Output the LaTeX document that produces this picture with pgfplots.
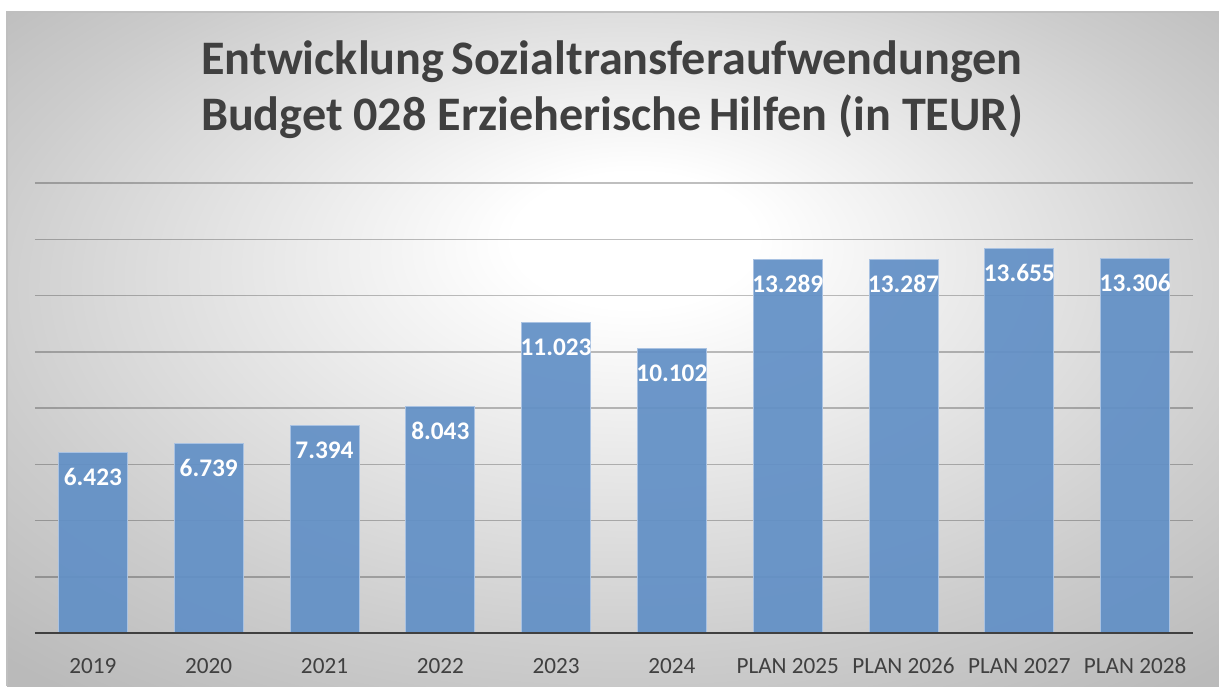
\documentclass[border=0pt]{standalone}
\usepackage{fontspec}
\setmainfont{Carlito}
\usepackage{pgfplots}
\pgfplotsset{compat=1.18}
\definecolor{txt}{HTML}{404040}
\definecolor{barblue}{HTML}{6290C6}
\definecolor{baredge}{HTML}{A9C2E2}
% background: light centre, grey edges
\pgfdeclareradialshading{chartbg}{\pgfpoint{1bp}{9bp}}{color(0bp)=(white); color(5bp)=(white); color(27bp)=(black!20); color(36bp)=(black!27); color(50bp)=(black!27)}

\begin{document}
\begin{tikzpicture}
\useasboundingbox (0,0) rectangle (121.9mm,68.6mm);
\shade[shading=chartbg] (0.7mm,0) rectangle (121.9mm,67.4mm);
\draw[black!25, line width=0.2mm] (0.7mm,0) -- (0.7mm,67.4mm) -- (121.9mm,67.4mm);

\node[anchor=base, font=\fontsize{13.7}{15}\selectfont\bfseries, text=txt] at (61.2mm,61.2mm) {Entwicklung\hspace{0.15em}Sozialtransferaufwendungen};
\node[anchor=base, font=\fontsize{13.7}{15}\selectfont\bfseries, text=txt] at (61.2mm,55.6mm) {Budget 028 Erzieherische\hspace{0.15em}Hilfen (in TEUR)};

\begin{axis}[
    at={(3.5mm,5.3mm)}, anchor=south west,
    scale only axis, width=115.8mm, height=45mm,
    xmin=-0.5, xmax=9.5, ymin=0, ymax=16000,
    enlargelimits=false,
    scaled y ticks=false,
    ybar, bar width=6.9mm,
    xtick={0,...,9},
    xticklabels={2019, 2020, 2021, 2022, 2023, 2024, PLAN 2025, PLAN 2026, PLAN 2027, PLAN 2028},
    ytick={2000,4000,...,16000}, yticklabels={},
    ymajorgrids,
    major grid style={black, opacity=0.25, line width=0.15mm},
    axis line style={draw=none},
    tick style={draw=none},
    xticklabel style={anchor=base, yshift=-2.5mm, font=\fontsize{6.6}{8}\selectfont, text=txt},
    nodes near coords,
    nodes near coords style={anchor=base, yshift=-3.3mm, font=\fontsize{7.2}{8}\selectfont\bfseries, text=white, opacity=1, text opacity=1,
        /pgf/number format/.cd, fixed, precision=0, 1000 sep={.}, assume math mode=true},
]
\addplot[fill=barblue, draw=baredge, line width=0.1mm, fill opacity=0.93] coordinates {
    (0,6423) (1,6739) (2,7394) (3,8043) (4,11023)
    (5,10102) (6,13289) (7,13287) (8,13655) (9,13306)
};
\draw[txt, line width=0.3mm] (rel axis cs:0,0) -- (rel axis cs:1,0);
\end{axis}
\end{tikzpicture}
\end{document}
